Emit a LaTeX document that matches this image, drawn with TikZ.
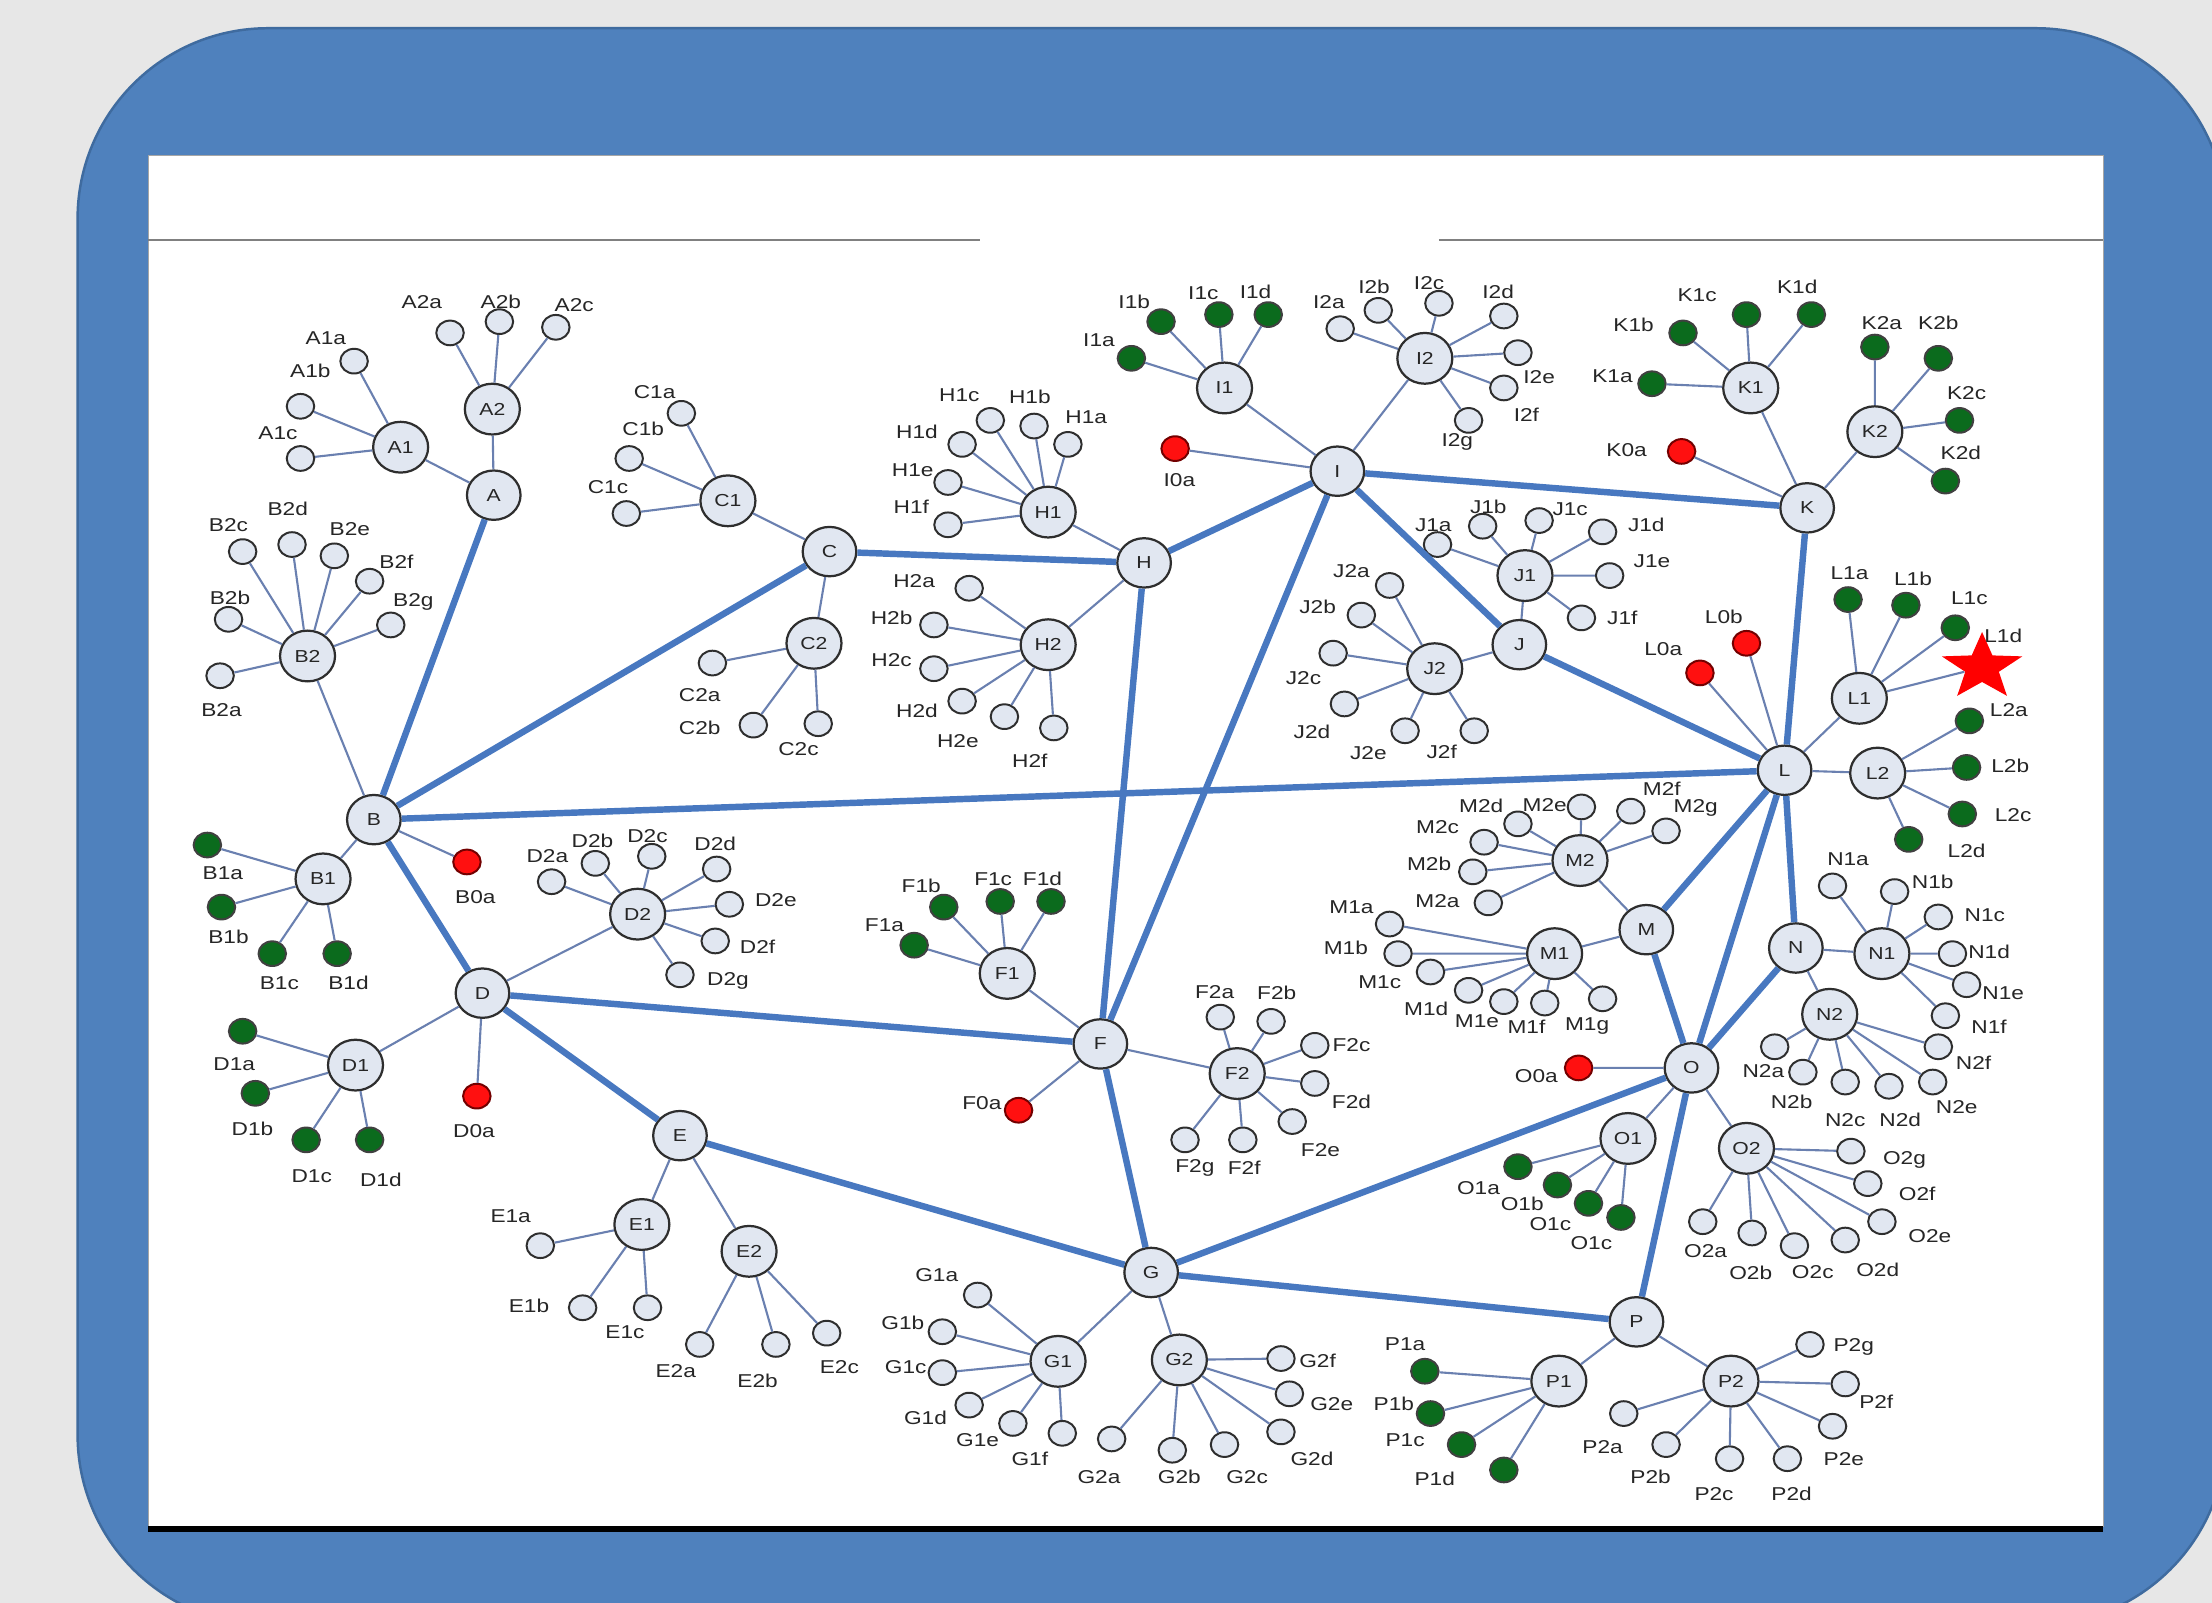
\documentclass[tikz,border=0pt]{standalone}
\usepackage{fontspec}
\setmainfont{Liberation Sans}[FakeStretch=1.22]
\usetikzlibrary{shapes.geometric}
\definecolor{pagegray}{HTML}{E7E7E7}
\definecolor{frameblue}{HTML}{4F81BD}
\definecolor{frameedge}{HTML}{3F6B9F}
\definecolor{nodefill}{HTML}{E1E7F1}
\definecolor{nodeline}{HTML}{2E2E2E}
\definecolor{trunkblue}{HTML}{4878C0}
\definecolor{twigblue}{HTML}{6A80B0}
\definecolor{leafgreen}{HTML}{0B6B1D}
\definecolor{leafred}{HTML}{FF1010}
\definecolor{lbltext}{HTML}{262626}

\begin{document}
\begin{tikzpicture}[x=0.02cm, y=-0.02cm,
    hub/.style={ellipse, draw=nodeline, fill=nodefill, line width=0.9pt, minimum width=0.76cm, minimum height=0.70cm, inner sep=0pt, text=lbltext, font=\fontsize{7}{8}\selectfont},
    subhub/.style={hub, minimum width=0.78cm, minimum height=0.72cm},
    leaf/.style={ellipse, draw=nodeline, fill=nodefill, line width=0.8pt, minimum width=0.39cm, minimum height=0.35cm, inner sep=0pt},
    gleaf/.style={leaf, fill=leafgreen, draw=black!75},
    rleaf/.style={leaf, fill=leafred, draw=red!45!black},
    lbl/.style={inner sep=0pt, text=lbltext, font=\fontsize{7.5}{8}\selectfont},
    trunk/.style={trunkblue, line width=2.6pt},
    twig/.style={twigblue, line width=0.85pt}]

  \useasboundingbox (0,0) rectangle (1568,1136);
  \clip (0,0) rectangle (1568,1136);

  \fill[pagegray] (0,0) rectangle (1568,1136);
  \draw[frameedge, fill=frameblue, line width=1pt, rounded corners=2.7cm] (55,20) rectangle (1578,1152);
  \draw[gray!70, fill=white, line width=0.4pt] (105,110) rectangle (1491,1082);
  \draw[gray, line width=0.8pt] (105,170) -- (695,170) (1020,170) -- (1491,170);
  \draw[black, line width=2.3pt] (105,1084) -- (1491,1084);

  \node[hub] (A) at (350,351) {A};
  \node[hub] (B) at (265,581) {B};
  \node[hub] (C) at (588,391) {C};
  \node[hub] (D) at (342,704) {D};
  \node[hub] (E) at (482,805) {E};
  \node[hub] (F) at (780,740) {F};
  \node[hub] (G) at (816,902) {G};
  \node[hub] (H) at (811,399) {H};
  \node[hub] (I) at (948,334) {I};
  \node[hub] (J) at (1077,457) {J};
  \node[hub] (K) at (1281,360) {K};
  \node[hub] (L) at (1265,546) {L};
  \node[hub] (M) at (1167,659) {M};
  \node[hub] (N) at (1273,672) {N};
  \node[hub] (O) at (1199,757) {O};
  \node[hub] (P) at (1160,937) {P};

  \node[subhub] (A1) at (284,317) {A1};
  \node[subhub] (A2) at (349,290) {A2};
  \node[subhub] (B1) at (229,623) {B1};
  \node[subhub] (B2) at (218,465) {B2};
  \node[subhub] (C1) at (516,355) {C1};
  \node[subhub] (C2) at (577,456) {C2};
  \node[subhub] (D1) at (252,755) {D1};
  \node[subhub] (D2) at (452,648) {D2};
  \node[subhub] (E1) at (455,868) {E1};
  \node[subhub] (E2) at (531,887) {E2};
  \node[subhub] (F1) at (714,690) {F1};
  \node[subhub] (F2) at (877,761) {F2};
  \node[subhub] (G1) at (750,965) {G1};
  \node[subhub] (G2) at (836,964) {G2};
  \node[subhub] (H1) at (743,363) {H1};
  \node[subhub] (H2) at (743,457) {H2};
  \node[subhub] (I1) at (868,275) {I1};
  \node[subhub] (I2) at (1010,254) {I2};
  \node[subhub] (J1) at (1081,408) {J1};
  \node[subhub] (J2) at (1017,474) {J2};
  \node[subhub] (K1) at (1241,275) {K1};
  \node[subhub] (K2) at (1329,306) {K2};
  \node[subhub] (L1) at (1318,495) {L1};
  \node[subhub] (L2) at (1331,548) {L2};
  \node[subhub] (M1) at (1102,676) {M1};
  \node[subhub] (M2) at (1120,610) {M2};
  \node[subhub] (N1) at (1334,676) {N1};
  \node[subhub] (N2) at (1297,719) {N2};
  \node[subhub] (O1) at (1154,807) {O1};
  \node[subhub] (O2) at (1238,814) {O2};
  \node[subhub] (P1) at (1105,979) {P1};
  \node[subhub] (P2) at (1227,979) {P2};

  \node[leaf] (A1a) at (251,256) {}; \node[lbl] (A1a-t) at (231,240) {A1a};
  \node[leaf] (A1b) at (213,288) {}; \node[lbl] (A1b-t) at (220,263) {A1b};
  \node[leaf] (A1c) at (213,325) {}; \node[lbl] (A1c-t) at (197,307) {A1c};
  \node[leaf] (A2a) at (319,236) {}; \node[lbl] (A2a-t) at (299,214) {A2a};
  \node[leaf] (A2b) at (354,228) {}; \node[lbl] (A2b-t) at (355,214) {A2b};
  \node[leaf] (A2c) at (394,232) {}; \node[lbl] (A2c-t) at (407,216) {A2c};

  \node[leaf] (B2a) at (156,479) {}; \node[lbl] (B2a-t) at (157,503) {B2a};
  \node[leaf] (B2b) at (162,439) {}; \node[lbl] (B2b-t) at (163,424) {B2b};
  \node[leaf] (B2c) at (172,391) {}; \node[lbl] (B2c-t) at (162,372) {B2c};
  \node[leaf] (B2d) at (207,386) {}; \node[lbl] (B2d-t) at (204,361) {B2d};
  \node[leaf] (B2e) at (237,394) {}; \node[lbl] (B2e-t) at (248,375) {B2e};
  \node[leaf] (B2f) at (262,412) {}; \node[lbl] (B2f-t) at (281,398) {B2f};
  \node[leaf] (B2g) at (277,443) {}; \node[lbl] (B2g-t) at (293,427) {B2g};
  \node[gleaf] (B1a) at (147,599) {}; \node[lbl] (B1a-t) at (158,619) {B1a};
  \node[gleaf] (B1b) at (157,643) {}; \node[lbl] (B1b-t) at (162,664) {B1b};
  \node[gleaf] (B1c) at (193,676) {}; \node[lbl] (B1c-t) at (198,697) {B1c};
  \node[gleaf] (B1d) at (239,676) {}; \node[lbl] (B1d-t) at (247,697) {B1d};
  \node[rleaf] (B0a) at (331,611) {}; \node[lbl] (B0a-t) at (337,636) {B0a};

  \node[leaf] (C1a) at (483,293) {}; \node[lbl] (C1a-t) at (464,278) {C1a};
  \node[leaf] (C1b) at (446,325) {}; \node[lbl] (C1b-t) at (456,304) {C1b};
  \node[leaf] (C1c) at (444,364) {}; \node[lbl] (C1c-t) at (431,345) {C1c};
  \node[leaf] (C2a) at (505,470) {}; \node[lbl] (C2a-t) at (496,493) {C2a};
  \node[leaf] (C2b) at (534,514) {}; \node[lbl] (C2b-t) at (496,516) {C2b};
  \node[leaf] (C2c) at (580,513) {}; \node[lbl] (C2c-t) at (566,531) {C2c};

  \node[leaf] (D2a) at (391,625) {}; \node[lbl] (D2a-t) at (388,607) {D2a};
  \node[leaf] (D2b) at (422,612) {}; \node[lbl] (D2b-t) at (420,596) {D2b};
  \node[leaf] (D2c) at (462,607) {}; \node[lbl] (D2c-t) at (459,593) {D2c};
  \node[leaf] (D2d) at (508,616) {}; \node[lbl] (D2d-t) at (507,598) {D2d};
  \node[leaf] (D2e) at (517,641) {}; \node[lbl] (D2e-t) at (550,638) {D2e};
  \node[leaf] (D2f) at (507,667) {}; \node[lbl] (D2f-t) at (537,671) {D2f};
  \node[leaf] (D2g) at (482,691) {}; \node[lbl] (D2g-t) at (516,695) {D2g};
  \node[gleaf] (D1a) at (172,731) {}; \node[lbl] (D1a-t) at (166,754) {D1a};
  \node[gleaf] (D1b) at (181,775) {}; \node[lbl] (D1b-t) at (179,800) {D1b};
  \node[gleaf] (D1c) at (217,808) {}; \node[lbl] (D1c-t) at (221,834) {D1c};
  \node[gleaf] (D1d) at (262,808) {}; \node[lbl] (D1d-t) at (270,836) {D1d};
  \node[rleaf] (D0a) at (338,777) {}; \node[lbl] (D0a-t) at (336,802) {D0a};

  \node[leaf] (E1a) at (383,883) {}; \node[lbl] (E1a-t) at (362,862) {E1a};
  \node[leaf] (E1b) at (413,927) {}; \node[lbl] (E1b-t) at (375,926) {E1b};
  \node[leaf] (E1c) at (459,927) {}; \node[lbl] (E1c-t) at (443,944) {E1c};
  \node[leaf] (E2a) at (496,953) {}; \node[lbl] (E2a-t) at (479,972) {E2a};
  \node[leaf] (E2b) at (550,953) {}; \node[lbl] (E2b-t) at (537,979) {E2b};
  \node[leaf] (E2c) at (586,945) {}; \node[lbl] (E2c-t) at (595,969) {E2c};

  \node[gleaf] (F1a) at (648,670) {}; \node[lbl] (F1a-t) at (627,656) {F1a};
  \node[gleaf] (F1b) at (669,643) {}; \node[lbl] (F1b-t) at (653,628) {F1b};
  \node[gleaf] (F1c) at (709,639) {}; \node[lbl] (F1c-t) at (704,623) {F1c};
  \node[gleaf] (F1d) at (745,639) {}; \node[lbl] (F1d-t) at (739,623) {F1d};
  \node[leaf] (F2a) at (865,721) {}; \node[lbl] (F2a-t) at (861,703) {F2a};
  \node[leaf] (F2b) at (901,724) {}; \node[lbl] (F2b-t) at (905,704) {F2b};
  \node[leaf] (F2c) at (932,741) {}; \node[lbl] (F2c-t) at (958,741) {F2c};
  \node[leaf] (F2d) at (932,768) {}; \node[lbl] (F2d-t) at (958,781) {F2d};
  \node[leaf] (F2e) at (916,795) {}; \node[lbl] (F2e-t) at (936,815) {F2e};
  \node[leaf] (F2f) at (881,808) {}; \node[lbl] (F2f-t) at (882,828) {F2f};
  \node[leaf] (F2g) at (840,808) {}; \node[lbl] (F2g-t) at (847,828) {F2g};
  \node[rleaf] (F0a) at (722,787) {}; \node[lbl] (F0a-t) at (696,782) {F0a};

  \node[leaf] (G1a) at (693,918) {}; \node[lbl] (G1a-t) at (664,904) {G1a};
  \node[leaf] (G1b) at (668,944) {}; \node[lbl] (G1b-t) at (640,938) {G1b};
  \node[leaf] (G1c) at (668,973) {}; \node[lbl] (G1c-t) at (642,969) {G1c};
  \node[leaf] (G1d) at (687,996) {}; \node[lbl] (G1d-t) at (656,1005) {G1d};
  \node[leaf] (G1e) at (718,1009) {}; \node[lbl] (G1e-t) at (693,1021) {G1e};
  \node[leaf] (G1f) at (753,1016) {}; \node[lbl] (G1f-t) at (730,1034) {G1f};
  \node[leaf] (G2a) at (788,1020) {}; \node[lbl] (G2a-t) at (779,1047) {G2a};
  \node[leaf] (G2b) at (831,1028) {}; \node[lbl] (G2b-t) at (836,1047) {G2b};
  \node[leaf] (G2c) at (868,1024) {}; \node[lbl] (G2c-t) at (884,1047) {G2c};
  \node[leaf] (G2d) at (908,1015) {}; \node[lbl] (G2d-t) at (930,1034) {G2d};
  \node[leaf] (G2e) at (914,988) {}; \node[lbl] (G2e-t) at (944,995) {G2e};
  \node[leaf] (G2f) at (908,963) {}; \node[lbl] (G2f-t) at (934,965) {G2f};

  \node[leaf] (H1a) at (757,315) {}; \node[lbl] (H1a-t) at (770,296) {H1a};
  \node[leaf] (H1b) at (733,302) {}; \node[lbl] (H1b-t) at (730,281) {H1b};
  \node[leaf] (H1c) at (702,298) {}; \node[lbl] (H1c-t) at (680,280) {H1c};
  \node[leaf] (H1d) at (682,315) {}; \node[lbl] (H1d-t) at (650,306) {H1d};
  \node[leaf] (H1e) at (672,342) {}; \node[lbl] (H1e-t) at (647,333) {H1e};
  \node[leaf] (H1f) at (672,372) {}; \node[lbl] (H1f-t) at (646,359) {H1f};
  \node[leaf] (H2a) at (687,417) {}; \node[lbl] (H2a-t) at (648,412) {H2a};
  \node[leaf] (H2b) at (662,443) {}; \node[lbl] (H2b-t) at (632,438) {H2b};
  \node[leaf] (H2c) at (662,474) {}; \node[lbl] (H2c-t) at (632,468) {H2c};
  \node[leaf] (H2d) at (682,497) {}; \node[lbl] (H2d-t) at (650,504) {H2d};
  \node[leaf] (H2e) at (712,508) {}; \node[lbl] (H2e-t) at (679,525) {H2e};
  \node[leaf] (H2f) at (747,516) {}; \node[lbl] (H2f-t) at (730,539) {H2f};

  \node[gleaf] (I1a) at (802,254) {}; \node[lbl] (I1a-t) at (779,241) {I1a};
  \node[gleaf] (I1b) at (823,228) {}; \node[lbl] (I1b-t) at (804,214) {I1b};
  \node[gleaf] (I1c) at (864,223) {}; \node[lbl] (I1c-t) at (853,208) {I1c};
  \node[gleaf] (I1d) at (899,223) {}; \node[lbl] (I1d-t) at (890,207) {I1d};
  \node[rleaf] (I0a) at (833,318) {}; \node[lbl] (I0a-t) at (836,340) {I0a};
  \node[leaf] (I2a) at (950,233) {}; \node[lbl] (I2a-t) at (942,214) {I2a};
  \node[leaf] (I2b) at (977,220) {}; \node[lbl] (I2b-t) at (974,203) {I2b};
  \node[leaf] (I2c) at (1020,215) {}; \node[lbl] (I2c-t) at (1013,201) {I2c};
  \node[leaf] (I2d) at (1066,224) {}; \node[lbl] (I2d-t) at (1062,207) {I2d};
  \node[leaf] (I2e) at (1076,250) {}; \node[lbl] (I2e-t) at (1091,267) {I2e};
  \node[leaf] (I2f) at (1066,275) {}; \node[lbl] (I2f-t) at (1082,294) {I2f};
  \node[leaf] (I2g) at (1041,298) {}; \node[lbl] (I2g-t) at (1033,313) {I2g};

  \node[leaf] (J1a) at (1019,386) {}; \node[lbl] (J1a-t) at (1016,372) {J1a};
  \node[leaf] (J1b) at (1051,373) {}; \node[lbl] (J1b-t) at (1055,359) {J1b};
  \node[leaf] (J1c) at (1091,369) {}; \node[lbl] (J1c-t) at (1113,361) {J1c};
  \node[leaf] (J1d) at (1136,377) {}; \node[lbl] (J1d-t) at (1167,372) {J1d};
  \node[leaf] (J1e) at (1141,408) {}; \node[lbl] (J1e-t) at (1171,398) {J1e};
  \node[leaf] (J1f) at (1121,438) {}; \node[lbl] (J1f-t) at (1150,438) {J1f};
  \node[leaf] (J2a) at (985,415) {}; \node[lbl] (J2a-t) at (958,405) {J2a};
  \node[leaf] (J2b) at (965,436) {}; \node[lbl] (J2b-t) at (934,430) {J2b};
  \node[leaf] (J2c) at (945,463) {}; \node[lbl] (J2c-t) at (924,481) {J2c};
  \node[leaf] (J2d) at (953,499) {}; \node[lbl] (J2d-t) at (930,519) {J2d};
  \node[leaf] (J2e) at (996,518) {}; \node[lbl] (J2e-t) at (970,534) {J2e};
  \node[leaf] (J2f) at (1045,518) {}; \node[lbl] (J2f-t) at (1022,533) {J2f};

  \node[gleaf] (K1a) at (1171,272) {}; \node[lbl] (K1a-t) at (1143,267) {K1a};
  \node[gleaf] (K1b) at (1193,236) {}; \node[lbl] (K1b-t) at (1158,230) {K1b};
  \node[gleaf] (K1c) at (1238,223) {}; \node[lbl] (K1c-t) at (1203,209) {K1c};
  \node[gleaf] (K1d) at (1284,223) {}; \node[lbl] (K1d-t) at (1274,203) {K1d};
  \node[gleaf] (K2a) at (1329,246) {}; \node[lbl] (K2a-t) at (1334,229) {K2a};
  \node[gleaf] (K2b) at (1374,254) {}; \node[lbl] (K2b-t) at (1374,229) {K2b};
  \node[gleaf] (K2c) at (1389,298) {}; \node[lbl] (K2c-t) at (1394,279) {K2c};
  \node[gleaf] (K2d) at (1379,341) {}; \node[lbl] (K2d-t) at (1390,321) {K2d};
  \node[rleaf] (K0a) at (1192,320) {}; \node[lbl] (K0a-t) at (1153,319) {K0a};

  \node[gleaf] (L1a) at (1310,425) {}; \node[lbl] (L1a-t) at (1311,406) {L1a};
  \node[gleaf] (L1b) at (1351,429) {}; \node[lbl] (L1b-t) at (1356,410) {L1b};
  \node[gleaf] (L1c) at (1386,445) {}; \node[lbl] (L1c-t) at (1396,424) {L1c};
  \node[star, star points=5, star point ratio=2.4, fill=red, draw=none, minimum size=1.0cm, inner sep=0pt, xscale=1.2] (L1d) at (1405,473) {};
  \node[lbl] (L1d-t) at (1420,451) {L1d};
  \node[gleaf] (L2a) at (1396,511) {}; \node[lbl] (L2a-t) at (1424,503) {L2a};
  \node[gleaf] (L2b) at (1394,544) {}; \node[lbl] (L2b-t) at (1425,543) {L2b};
  \node[gleaf] (L2c) at (1391,577) {}; \node[lbl] (L2c-t) at (1427,578) {L2c};
  \node[gleaf] (L2d) at (1353,595) {}; \node[lbl] (L2d-t) at (1394,603) {L2d};
  \node[rleaf] (L0a) at (1205,477) {}; \node[lbl] (L0a-t) at (1179,460) {L0a};
  \node[rleaf] (L0b) at (1238,456) {}; \node[lbl] (L0b-t) at (1222,437) {L0b};

  \node[leaf] (M1a) at (985,655) {}; \node[lbl] (M1a-t) at (958,643) {M1a};
  \node[leaf] (M1b) at (991,676) {}; \node[lbl] (M1b-t) at (954,672) {M1b};
  \node[leaf] (M1c) at (1014,689) {}; \node[lbl] (M1c-t) at (978,696) {M1c};
  \node[leaf] (M1d) at (1041,702) {}; \node[lbl] (M1d-t) at (1011,715) {M1d};
  \node[leaf] (M1e) at (1066,710) {}; \node[lbl] (M1e-t) at (1047,724) {M1e};
  \node[leaf] (M1f) at (1095,711) {}; \node[lbl] (M1f-t) at (1082,728) {M1f};
  \node[leaf] (M1g) at (1136,708) {}; \node[lbl] (M1g-t) at (1125,727) {M1g};
  \node[leaf] (M2a) at (1055,640) {}; \node[lbl] (M2a-t) at (1019,639) {M2a};
  \node[leaf] (M2b) at (1044,618) {}; \node[lbl] (M2b-t) at (1013,612) {M2b};
  \node[leaf] (M2c) at (1052,597) {}; \node[lbl] (M2c-t) at (1019,586) {M2c};
  \node[leaf] (M2d) at (1076,584) {}; \node[lbl] (M2d-t) at (1050,571) {M2d};
  \node[leaf] (M2e) at (1121,572) {}; \node[lbl] (M2e-t) at (1095,571) {M2e};
  \node[leaf] (M2f) at (1156,575) {}; \node[lbl] (M2f-t) at (1178,559) {M2f};
  \node[leaf] (M2g) at (1181,589) {}; \node[lbl] (M2g-t) at (1202,573) {M2g};

  \node[leaf] (N1a) at (1299,628) {}; \node[lbl] (N1a-t) at (1310,609) {N1a};
  \node[leaf] (N1b) at (1343,632) {}; \node[lbl] (N1b-t) at (1370,625) {N1b};
  \node[leaf] (N1c) at (1374,650) {}; \node[lbl] (N1c-t) at (1407,649) {N1c};
  \node[leaf] (N1d) at (1384,676) {}; \node[lbl] (N1d-t) at (1410,675) {N1d};
  \node[leaf] (N1e) at (1394,698) {}; \node[lbl] (N1e-t) at (1420,704) {N1e};
  \node[leaf] (N1f) at (1379,720) {}; \node[lbl] (N1f-t) at (1410,728) {N1f};
  \node[leaf] (N2a) at (1258,742) {}; \node[lbl] (N2a-t) at (1250,759) {N2a};
  \node[leaf] (N2b) at (1278,760) {}; \node[lbl] (N2b-t) at (1270,781) {N2b};
  \node[leaf] (N2c) at (1308,767) {}; \node[lbl] (N2c-t) at (1308,794) {N2c};
  \node[leaf] (N2d) at (1339,770) {}; \node[lbl] (N2d-t) at (1347,794) {N2d};
  \node[leaf] (N2e) at (1370,767) {}; \node[lbl] (N2e-t) at (1387,785) {N2e};
  \node[leaf] (N2f) at (1374,742) {}; \node[lbl] (N2f-t) at (1399,753) {N2f};

  \node[rleaf] (O0a) at (1119,757) {}; \node[lbl] (O0a-t) at (1089,763) {O0a};
  \node[gleaf] (O1a) at (1076,827) {}; \node[lbl] (O1a-t) at (1048,842) {O1a};
  \node[gleaf] (O1b) at (1104,840) {}; \node[lbl] (O1b-t) at (1079,853) {O1b};
  \node[gleaf] (O1c) at (1126,853) {}; \node[lbl] (O1c-t) at (1099,868) {O1c};
  \node[gleaf] (O1d) at (1149,863) {}; \node[lbl] (O1d-t) at (1128,881) {O1c};
  \node[leaf] (O2a) at (1207,866) {}; \node[lbl] (O2a-t) at (1209,887) {O2a};
  \node[leaf] (O2b) at (1242,874) {}; \node[lbl] (O2b-t) at (1241,902) {O2b};
  \node[leaf] (O2c) at (1272,883) {}; \node[lbl] (O2c-t) at (1285,902) {O2c};
  \node[leaf] (O2d) at (1308,879) {}; \node[lbl] (O2d-t) at (1331,900) {O2d};
  \node[leaf] (O2e) at (1334,866) {}; \node[lbl] (O2e-t) at (1368,876) {O2e};
  \node[leaf] (O2f) at (1324,839) {}; \node[lbl] (O2f-t) at (1359,846) {O2f};
  \node[leaf] (O2g) at (1312,816) {}; \node[lbl] (O2g-t) at (1350,822) {O2g};

  \node[gleaf] (P1a) at (1010,972) {}; \node[lbl] (P1a-t) at (996,953) {P1a};
  \node[gleaf] (P1b) at (1014,1002) {}; \node[lbl] (P1b-t) at (988,995) {P1b};
  \node[gleaf] (P1c) at (1036,1024) {}; \node[lbl] (P1c-t) at (996,1021) {P1c};
  \node[gleaf] (P1d) at (1066,1042) {}; \node[lbl] (P1d-t) at (1017,1048) {P1d};
  \node[leaf] (P2a) at (1151,1002) {}; \node[lbl] (P2a-t) at (1136,1026) {P2a};
  \node[leaf] (P2b) at (1181,1024) {}; \node[lbl] (P2b-t) at (1170,1047) {P2b};
  \node[leaf] (P2c) at (1226,1034) {}; \node[lbl] (P2c-t) at (1215,1059) {P2c};
  \node[leaf] (P2d) at (1267,1034) {}; \node[lbl] (P2d-t) at (1270,1059) {P2d};
  \node[leaf] (P2e) at (1299,1011) {}; \node[lbl] (P2e-t) at (1307,1034) {P2e};
  \node[leaf] (P2f) at (1308,981) {}; \node[lbl] (P2f-t) at (1330,994) {P2f};
  \node[leaf] (P2g) at (1283,953) {}; \node[lbl] (P2g-t) at (1314,955) {P2g};

  \draw[trunk] (A) -- (B) (B) -- (C) (B) -- (L) (B) -- (D) (C) -- (H)
    (H) -- (I) (H) -- (F) (I) -- (K) (I) -- (J) (I) -- (F) (J) -- (L)
    (K) -- (L) (L) -- (M) (L) -- (O) (L) -- (N) (M) -- (O) (N) -- (O)
    (D) -- (F) (D) -- (E) (E) -- (G) (F) -- (G) (G) -- (O) (G) -- (P)
    (O) -- (P);

  \draw[twig] (A) -- (A1) (A) -- (A2) (A1) -- (A1a) (A1) -- (A1b) (A1) -- (A1c)
    (A2) -- (A2a) (A2) -- (A2b) (A2) -- (A2c);
  \draw[twig] (B) -- (B1) (B) -- (B2) (B) -- (B0a) (B1) -- (B1a) (B1) -- (B1b)
    (B1) -- (B1c) (B1) -- (B1d) (B2) -- (B2a) (B2) -- (B2b) (B2) -- (B2c)
    (B2) -- (B2d) (B2) -- (B2e) (B2) -- (B2f) (B2) -- (B2g);
  \draw[twig] (C) -- (C1) (C) -- (C2) (C1) -- (C1a) (C1) -- (C1b) (C1) -- (C1c)
    (C2) -- (C2a) (C2) -- (C2b) (C2) -- (C2c);
  \draw[twig] (D) -- (D1) (D) -- (D2) (D) -- (D0a) (D1) -- (D1a) (D1) -- (D1b)
    (D1) -- (D1c) (D1) -- (D1d) (D2) -- (D2a) (D2) -- (D2b) (D2) -- (D2c)
    (D2) -- (D2d) (D2) -- (D2e) (D2) -- (D2f) (D2) -- (D2g);
  \draw[twig] (E) -- (E1) (E) -- (E2) (E1) -- (E1a) (E1) -- (E1b) (E1) -- (E1c)
    (E2) -- (E2a) (E2) -- (E2b) (E2) -- (E2c);
  \draw[twig] (F) -- (F1) (F) -- (F2) (F) -- (F0a) (F1) -- (F1a) (F1) -- (F1b)
    (F1) -- (F1c) (F1) -- (F1d) (F2) -- (F2a) (F2) -- (F2b) (F2) -- (F2c)
    (F2) -- (F2d) (F2) -- (F2e) (F2) -- (F2f) (F2) -- (F2g);
  \draw[twig] (G) -- (G1) (G) -- (G2) (G1) -- (G1a) (G1) -- (G1b) (G1) -- (G1c)
    (G1) -- (G1d) (G1) -- (G1e) (G1) -- (G1f) (G2) -- (G2a) (G2) -- (G2b)
    (G2) -- (G2c) (G2) -- (G2d) (G2) -- (G2e) (G2) -- (G2f);
  \draw[twig] (H) -- (H1) (H) -- (H2) (H1) -- (H1a) (H1) -- (H1b) (H1) -- (H1c)
    (H1) -- (H1d) (H1) -- (H1e) (H1) -- (H1f) (H2) -- (H2a) (H2) -- (H2b)
    (H2) -- (H2c) (H2) -- (H2d) (H2) -- (H2e) (H2) -- (H2f);
  \draw[twig] (I) -- (I1) (I) -- (I2) (I) -- (I0a) (I1) -- (I1a) (I1) -- (I1b)
    (I1) -- (I1c) (I1) -- (I1d) (I2) -- (I2a) (I2) -- (I2b) (I2) -- (I2c)
    (I2) -- (I2d) (I2) -- (I2e) (I2) -- (I2f) (I2) -- (I2g);
  \draw[twig] (J) -- (J1) (J) -- (J2) (J1) -- (J1a) (J1) -- (J1b) (J1) -- (J1c)
    (J1) -- (J1d) (J1) -- (J1e) (J1) -- (J1f) (J2) -- (J2a) (J2) -- (J2b)
    (J2) -- (J2c) (J2) -- (J2d) (J2) -- (J2e) (J2) -- (J2f);
  \draw[twig] (K) -- (K1) (K) -- (K2) (K) -- (K0a) (K1) -- (K1a) (K1) -- (K1b)
    (K1) -- (K1c) (K1) -- (K1d) (K2) -- (K2a) (K2) -- (K2b) (K2) -- (K2c)
    (K2) -- (K2d);
  \draw[twig] (L) -- (L1) (L) -- (L2) (L) -- (L0a) (L) -- (L0b) (L1) -- (L1a)
    (L1) -- (L1b) (L1) -- (L1c) (L1) -- (L1d) (L2) -- (L2a) (L2) -- (L2b)
    (L2) -- (L2c) (L2) -- (L2d);
  \draw[twig] (M) -- (M1) (M) -- (M2) (M1) -- (M1a) (M1) -- (M1b) (M1) -- (M1c)
    (M1) -- (M1d) (M1) -- (M1e) (M1) -- (M1f) (M1) -- (M1g) (M2) -- (M2a)
    (M2) -- (M2b) (M2) -- (M2c) (M2) -- (M2d) (M2) -- (M2e) (M2) -- (M2f)
    (M2) -- (M2g);
  \draw[twig] (N) -- (N1) (N) -- (N2) (N1) -- (N1a) (N1) -- (N1b) (N1) -- (N1c)
    (N1) -- (N1d) (N1) -- (N1e) (N1) -- (N1f) (N2) -- (N2a) (N2) -- (N2b)
    (N2) -- (N2c) (N2) -- (N2d) (N2) -- (N2e) (N2) -- (N2f);
  \draw[twig] (O) -- (O1) (O) -- (O2) (O) -- (O0a) (O1) -- (O1a) (O1) -- (O1b)
    (O1) -- (O1c) (O1) -- (O1d) (O2) -- (O2a) (O2) -- (O2b) (O2) -- (O2c)
    (O2) -- (O2d) (O2) -- (O2e) (O2) -- (O2f) (O2) -- (O2g);
  \draw[twig] (P) -- (P1) (P) -- (P2) (P1) -- (P1a) (P1) -- (P1b) (P1) -- (P1c)
    (P1) -- (P1d) (P2) -- (P2a) (P2) -- (P2b) (P2) -- (P2c) (P2) -- (P2d)
    (P2) -- (P2e) (P2) -- (P2f) (P2) -- (P2g);
\end{tikzpicture}
\end{document}
